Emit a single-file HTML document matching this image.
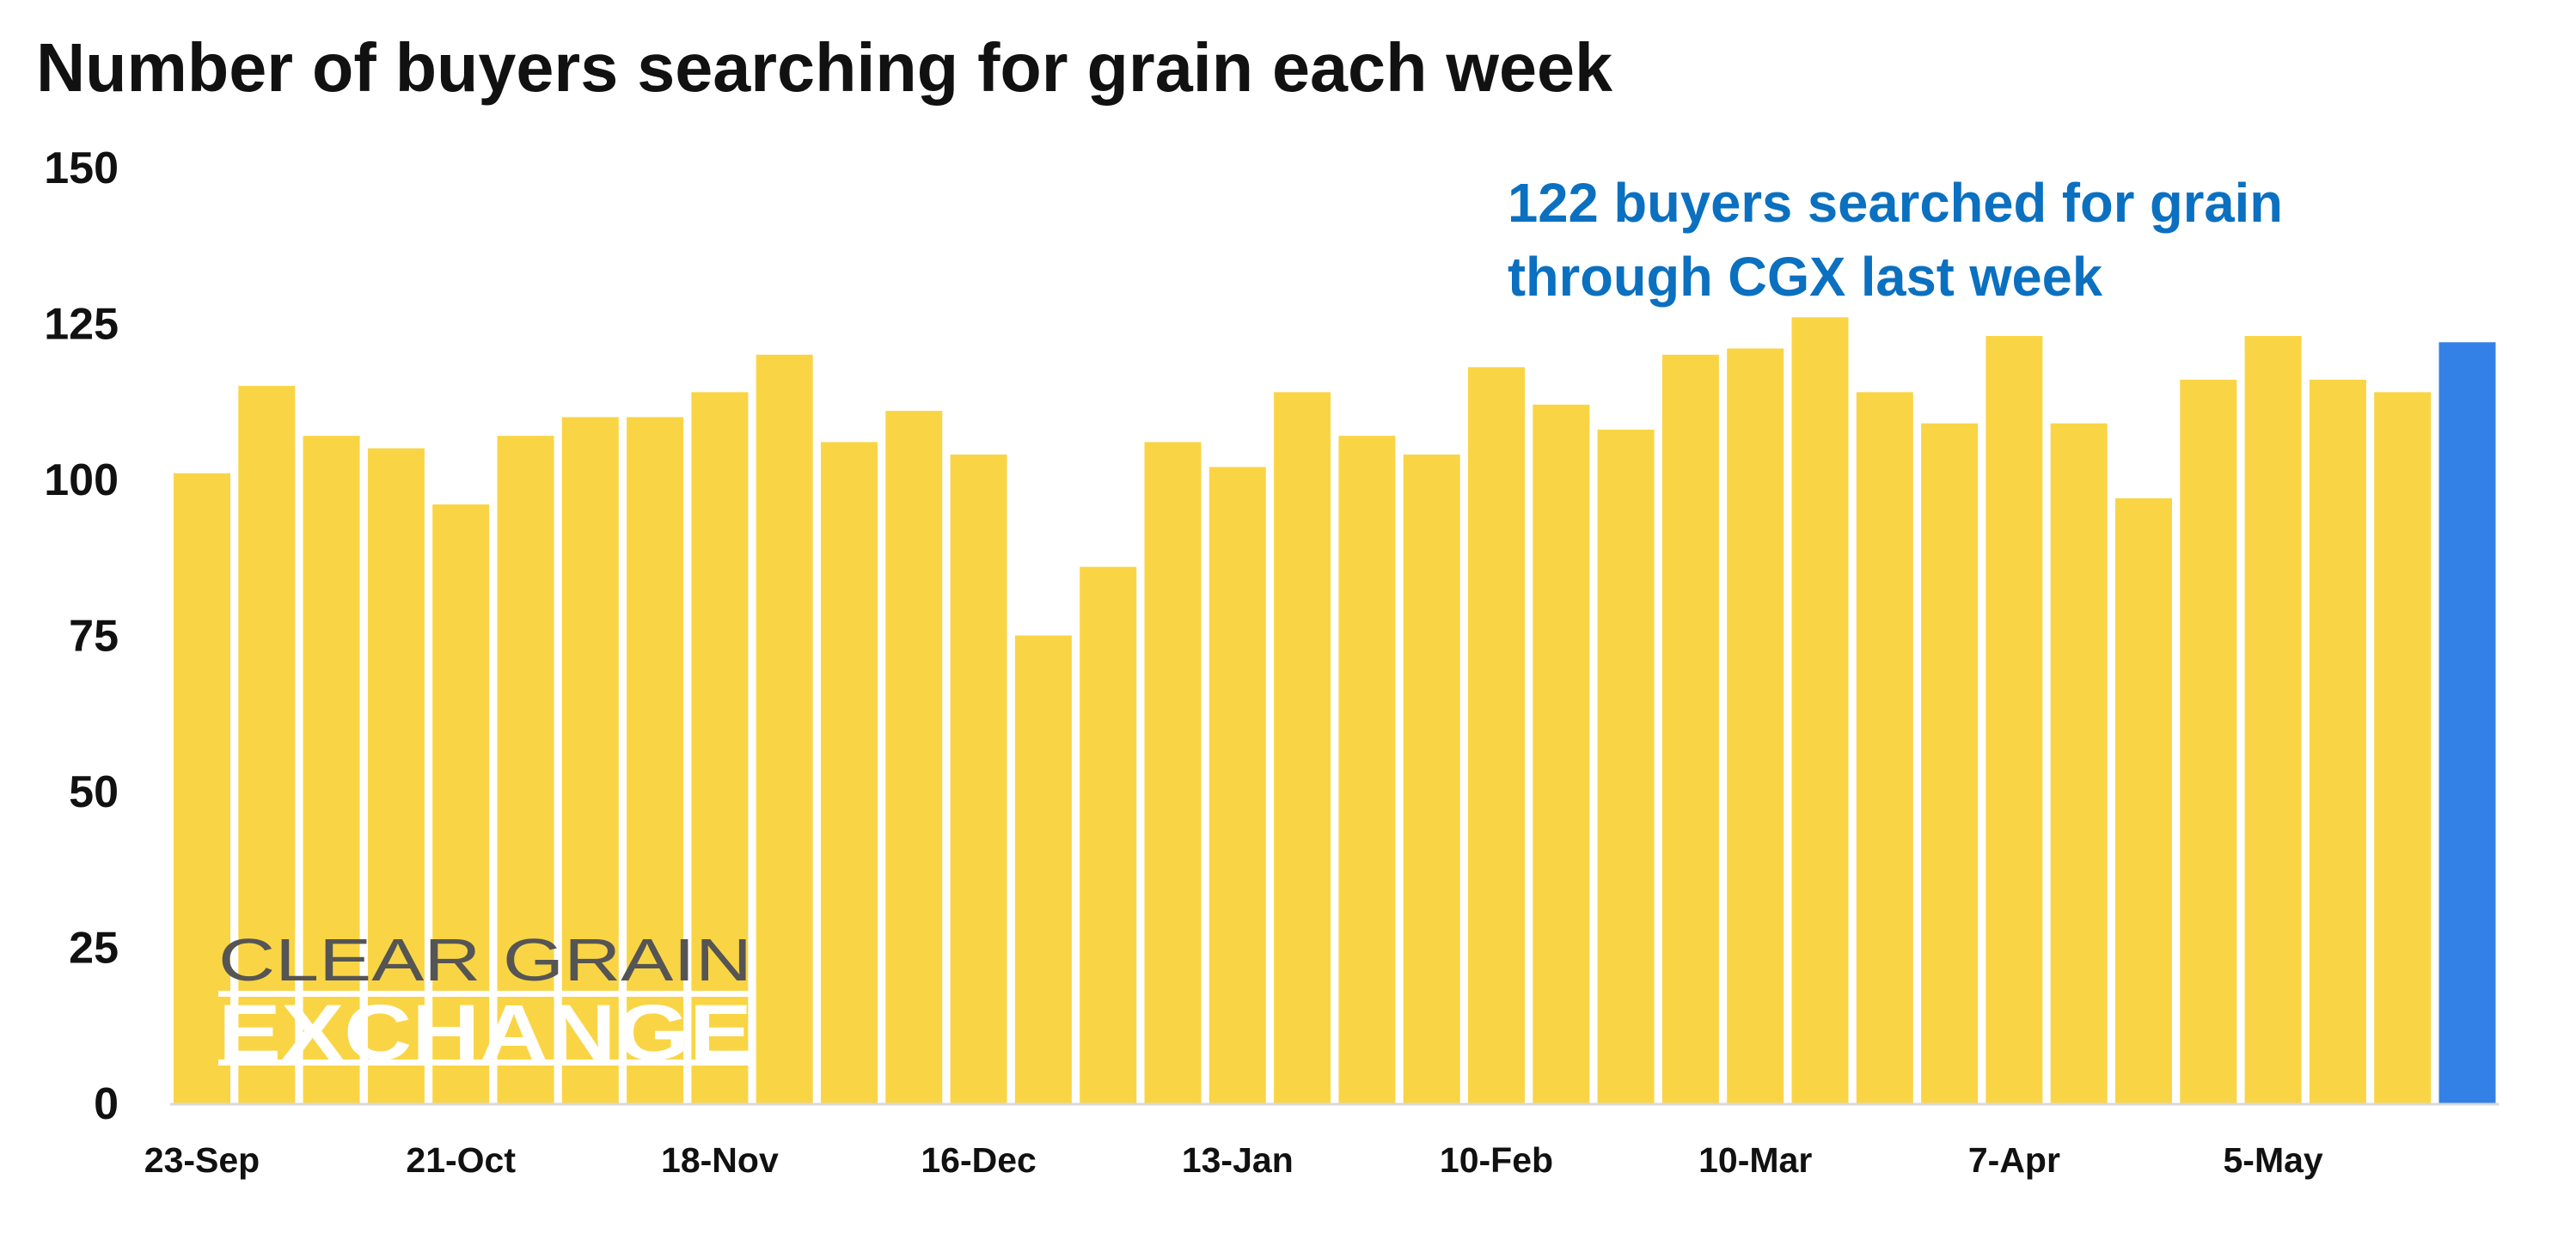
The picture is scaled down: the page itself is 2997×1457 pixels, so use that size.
<!DOCTYPE html>
<html><head><meta charset="utf-8"><style>
html,body{margin:0;padding:0;background:#fff;}
svg{display:block;font-family:"Liberation Sans",sans-serif;}
</style></head><body>
<svg id="chart" width="2997" height="1457" viewBox="0 0 2997 1457" xmlns="http://www.w3.org/2000/svg">
<rect width="2997" height="1457" fill="#fff"/>
<text x="42" y="106" font-size="80" font-weight="bold" fill="#111" textLength="1834" lengthAdjust="spacingAndGlyphs">Number of buyers searching for grain each week</text>
<g id="yaxis"></g>
<g id="bars"></g>
<g id="xaxis"></g>
<g>
<text x="254" y="1141" font-size="70" fill="#555" textLength="621" lengthAdjust="spacingAndGlyphs">CLEAR GRAIN</text>
<rect x="254" y="1153" width="621" height="7" fill="#fff"/>
<text x="254" y="1233" font-size="92" font-weight="bold" fill="#fff" textLength="621" lengthAdjust="spacingAndGlyphs">EXCHANGE</text>
<rect x="254" y="1233" width="621" height="7" fill="#fff"/>
</g>
<text x="1754" y="258" font-size="64" font-weight="bold" fill="#0B70C0" textLength="902" lengthAdjust="spacingAndGlyphs">122 buyers searched for grain</text>
<text x="1754" y="344" font-size="64" font-weight="bold" fill="#0B70C0" textLength="692" lengthAdjust="spacingAndGlyphs">through CGX last week</text>
</svg>
<script>
const categories = ["23-Sep","30-Sep","7-Oct","14-Oct","21-Oct","28-Oct","4-Nov","11-Nov","18-Nov","25-Nov","2-Dec","9-Dec","16-Dec","23-Dec","30-Dec","6-Jan","13-Jan","20-Jan","27-Jan","3-Feb","10-Feb","17-Feb","24-Feb","3-Mar","10-Mar","17-Mar","24-Mar","31-Mar","7-Apr","14-Apr","21-Apr","28-Apr","5-May","12-May","19-May","26-May"];
const buyers = [101,115,107,105,96,107,110,110,114,120,106,111,104,75,86,106,102,114,107,104,118,112,108,120,121,126,114,109,123,109,97,116,123,116,114,122];
const yTicks = [0,25,50,75,100,125,150];
const xTickEvery = 4;

const NS = "http://www.w3.org/2000/svg";
const x0 = 202, pitch = 75.3, barW = 66, yBase = 1284, yTop = 195, yMax = 150;
function y(v){ return yBase - (v / yMax) * (yBase - yTop); }
function xLeft(i){ return x0 + i * pitch; }
function mk(tag, attrs){ const e = document.createElementNS(NS, tag); for (const k in attrs) e.setAttribute(k, attrs[k]); return e; }

const yaxis = document.getElementById('yaxis');
yTicks.forEach(t => {
  const tx = mk('text', {x: 138, y: y(t) + 18, 'text-anchor': 'end', 'font-size': 52, 'font-weight': 'bold', fill: '#111'});
  
  
  tx.textContent = t;
  yaxis.appendChild(tx);
});

const bars = document.getElementById('bars');
buyers.forEach((v, i) => {
  const last = i === buyers.length - 1;
  const r = mk('rect', {x: xLeft(i), y: y(v), width: barW, height: yBase - y(v), fill: last ? '#3381E6' : '#F9D545'});
  
  
  bars.appendChild(r);
});

const xaxis = document.getElementById('xaxis');
const line = mk('line', {x1: 198, x2: xLeft(buyers.length - 1) + barW + 4, y1: yBase + 1, y2: yBase + 1, stroke: '#d9d9d9', 'stroke-width': 3});


xaxis.appendChild(line);
categories.forEach((c, i) => {
  if (i % xTickEvery !== 0) return;
  const tx = mk('text', {x: xLeft(i) + barW / 2, y: 1364, 'text-anchor': 'middle', 'font-size': 41, 'font-weight': 'bold', fill: '#111'});
  
  
  tx.textContent = c;
  xaxis.appendChild(tx);
});
</script>
</body></html>
